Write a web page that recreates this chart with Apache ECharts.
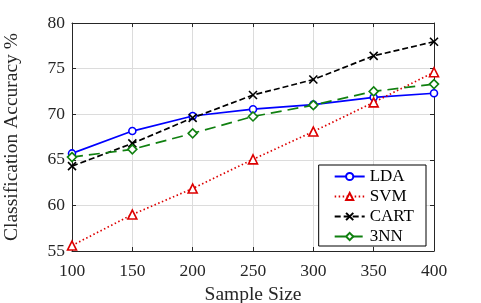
<!DOCTYPE html>
<html>
<head>
<meta charset="utf-8">
<script src="https://cdn.jsdelivr.net/npm/echarts@6/dist/echarts.min.js"></script>
<style>html,body{margin:0;padding:0;background:#fff;}#c{width:481px;height:303px;}</style>
</head>
<body>
<div id="c"></div>
<script>
const sampleSizes = [100, 150, 200, 250, 300, 350, 400];
const ldaValues  = [65.7, 68.15, 69.8, 70.55, 71.05, 71.85, 72.3];
const svmValues  = [55.6, 59.0, 61.85, 65.05, 68.1, 71.3, 74.6];
const cartValues = [64.3, 66.8, 69.6, 72.1, 73.8, 76.4, 77.95];
const nnValues   = [65.3, 66.15, 67.9, 69.75, 71.0, 72.5, 73.3];
const seriesNames = ['LDA', 'SVM', 'CART', '3NN'];

const FONT = 'Liberation Serif';
const pairs = v => sampleSizes.map((x, i) => [x, v[i]]);

const chart = echarts.init(document.getElementById('c'));
const mk = (name, data, color, symbol, lineType, size) => ({
  name, type: 'line', data: pairs(data),
  symbol, symbolSize: size,
  lineStyle: { color, width: 1.7, type: lineType },
  itemStyle: { color: symbol.startsWith('path') ? 'rgba(0,0,0,0)' : '#fff', borderColor: color, borderWidth: 1.6 },
  emphasis: { disabled: true },
  animation: false
});
const axisCommon = {
  axisLine: { show: true, lineStyle: { color: '#262626', width: 1 } },
  axisTick: { show: true, inside: true, length: 4, lineStyle: { color: '#262626' } },
};
chart.setOption({
  animation: false,
  grid: { left: 72, right: 47, top: 23, bottom: 52, outerBoundsMode: 'none', containLabel: false },
  xAxis: [
    Object.assign({ type: 'value', min: 100, max: 400, interval: 50, position: 'bottom',
      name: 'Sample Size', nameLocation: 'middle', nameGap: 33,
      nameTextStyle: { fontFamily: FONT, fontSize: 19.5, color: '#262626' },
      axisLabel: { fontFamily: FONT, fontSize: 17.5, color: '#262626', margin: 11 },
      splitLine: { show: true, lineStyle: { color: '#dcdcdc', width: 1 } } }, axisCommon),
    Object.assign({ type: 'value', min: 100, max: 400, interval: 50, position: 'top',
      axisLabel: { show: false }, splitLine: { show: false } }, axisCommon)
  ],
  yAxis: [
    Object.assign({ type: 'value', min: 55, max: 80, interval: 5, position: 'left',
      name: 'Classification Accuracy %', nameLocation: 'middle', nameGap: 50,
      nameTextStyle: { fontFamily: FONT, fontSize: 19.5, color: '#262626' },
      axisLabel: { fontFamily: FONT, fontSize: 17.5, color: '#262626', margin: 7 },
      splitLine: { show: true, lineStyle: { color: '#dcdcdc', width: 1 } } }, axisCommon),
    Object.assign({ type: 'value', min: 55, max: 80, interval: 5, position: 'right',
      axisLabel: { show: false }, splitLine: { show: false } }, axisCommon)
  ],
  legend: {
    orient: 'vertical', right: 55, bottom: 57,
    backgroundColor: '#fff', borderColor: '#000', borderWidth: 1, borderRadius: 0,
    padding: [3, 12, 1, 15], itemGap: 3, itemWidth: 30, itemHeight: 9,
    textStyle: { fontFamily: FONT, fontSize: 17, color: '#000' },
    data: seriesNames
  },
  series: [
    mk('LDA', ldaValues, '#0000ff', 'circle', 'solid', 7),
    mk('SVM', svmValues, '#dd0000', 'triangle', [1.5, 2.5], 9),
    mk('CART', cartValues, '#000000', 'path://M0,0L10,10M10,0L0,10', [6, 3], 8),
    mk('3NN', nnValues, '#108010', 'diamond', [11, 6], 9)
  ]
});
</script>
</body>
</html>
